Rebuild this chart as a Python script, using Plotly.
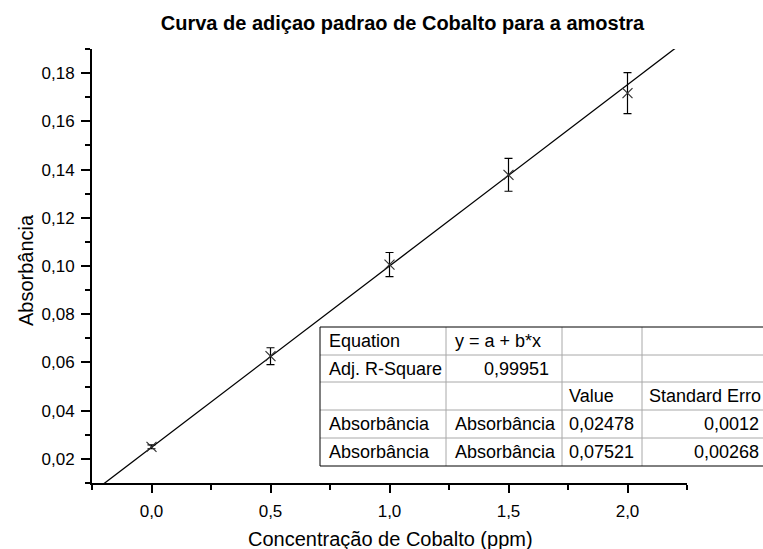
import plotly.graph_objects as go

# ---- data ----
conc = [0.0, 0.5, 1.0, 1.5, 2.0]
absorb = [0.0250, 0.0626, 0.1006, 0.1378, 0.1717]
absorb_err = [0.0008, 0.0035, 0.0050, 0.0068, 0.0085]
fit_a = 0.02478
fit_b = 0.07521
fit_x = [-0.25, 2.25]

title_text = "Curva de adiçao padrao de Cobalto para a amostra"
x_title = "Concentração de Cobalto (ppm)"
y_title = "Absorbância"
x_ticks = [0.0, 0.5, 1.0, 1.5, 2.0]
x_tick_labels = ["0,0", "0,5", "1,0", "1,5", "2,0"]
y_ticks = [0.02, 0.04, 0.06, 0.08, 0.10, 0.12, 0.14, 0.16, 0.18]
y_tick_labels = ["0,02", "0,04", "0,06", "0,08", "0,10", "0,12", "0,14", "0,16", "0,18"]

table_col1 = ["Equation", "Adj. R-Square", "", "Absorbância", "Absorbância"]
table_col2 = ["y = a + b*x", "0,99951", "", "Absorbância", "Absorbância"]
table_col3 = ["", "", "Value", "0,02478", "0,07521"]
table_col4 = ["", "", "Standard Erro", "0,0012", "0,00268"]

# ---- layout geometry (pixels) ----
W, H = 763, 549
L, R, T, B = 92, 76, 49, 66
PW, PH = W - L - R, H - T - B

def px(xp):
    return (xp - L) / PW

def py(yp):
    return (H - B - yp) / PH

FONT = "Liberation Sans, Arial, sans-serif"

fig = go.Figure()

fit_y = [fit_a + fit_b * v for v in fit_x]
fig.add_trace(go.Scatter(x=fit_x, y=fit_y, mode="lines",
                         line=dict(color="black", width=1.3),
                         hoverinfo="skip", showlegend=False))
fig.add_trace(go.Scatter(
    x=conc, y=absorb, mode="markers",
    marker=dict(symbol="x-thin-open", size=10, color="#333333",
                line=dict(width=1.2, color="#333333")),
    error_y=dict(type="data", array=absorb_err, visible=True,
                 color="black", thickness=1.2, width=4),
    showlegend=False))

# ---- table ----
col_edges = [320, 446, 562, 642, 800]
row_edges = [327, 355, 382, 410, 438, 466]
shapes = []
inner = "#a8a8a8"
shapes.append(dict(type="rect", xref="paper", yref="paper", layer="below",
                   x0=px(col_edges[0]), x1=px(col_edges[-1]),
                   y0=py(row_edges[-1]), y1=py(row_edges[0]),
                   line=dict(width=0), fillcolor="white"))
for ce in col_edges[1:-1]:
    shapes.append(dict(type="line", xref="paper", yref="paper",
                       x0=px(ce), x1=px(ce), y0=py(row_edges[0]), y1=py(row_edges[-1]),
                       line=dict(color=inner, width=1)))
for re_ in row_edges[1:-1]:
    shapes.append(dict(type="line", xref="paper", yref="paper",
                       x0=px(col_edges[0]), x1=px(col_edges[-1]), y0=py(re_), y1=py(re_),
                       line=dict(color=inner, width=1)))
shapes.append(dict(type="rect", xref="paper", yref="paper",
                   x0=px(col_edges[0]), x1=px(col_edges[-1]),
                   y0=py(row_edges[-1]), y1=py(row_edges[0]),
                   line=dict(color="black", width=1), fillcolor="rgba(0,0,0,0)"))

annotations = []
cols = [table_col1, table_col2, table_col3, table_col4]
for ci, col in enumerate(cols):
    for ri, txt in enumerate(col):
        if not txt:
            continue
        yc = (row_edges[ri] + row_edges[ri + 1]) / 2
        is_num = txt[0].isdigit()
        if is_num and ci in (1, 3):
            xr = col_edges[ci + 1] - 11 if ci == 1 else 761
            annotations.append(dict(x=px(xr), y=py(yc), xref="paper", yref="paper",
                                    text=txt, showarrow=False, xanchor="right", yanchor="middle",
                                    font=dict(family=FONT, size=18, color="black")))
        else:
            pad = 7 if ci < 2 else 5
            annotations.append(dict(x=px(col_edges[ci] + pad), y=py(yc), xref="paper", yref="paper",
                                    text=txt, showarrow=False, xanchor="left", yanchor="middle",
                                    font=dict(family=FONT, size=18, color="black")))

# axis titles
annotations.append(dict(x=px(390), y=py(539), xref="paper", yref="paper", text=x_title,
                        showarrow=False, xanchor="center", yanchor="middle",
                        font=dict(family=FONT, size=20, color="black")))
annotations.append(dict(x=px(26), y=py(270), xref="paper", yref="paper", text=y_title,
                        textangle=-90, showarrow=False, xanchor="center", yanchor="middle",
                        font=dict(family=FONT, size=20, color="black")))

fig.update_layout(
    width=W, height=H,
    margin=dict(l=L, r=R, t=T, b=B),
    paper_bgcolor="white", plot_bgcolor="white",
    font=dict(family=FONT, size=17, color="black"),
    title=dict(text="<b>" + title_text + "</b>", x=px(402.5), xanchor="center", xref="paper",
               y=1 - 22.5 / H, yanchor="middle", font=dict(family=FONT, size=20, color="black")),
    shapes=shapes, annotations=annotations,
    xaxis=dict(range=[-0.25, 2.25], tickvals=x_ticks, ticktext=x_tick_labels,
               showgrid=False, zeroline=False, showline=True, linecolor="black", linewidth=1.8,
               ticks="outside", ticklen=8, tickwidth=1.5, tickcolor="black",
               ticklabelstandoff=4,
               minor=dict(dtick=0.25, tick0=0, ticks="outside", ticklen=5, tickwidth=1.5, tickcolor="black"),
               tickfont=dict(size=17)),
    yaxis=dict(range=[0.01, 0.19], tickvals=y_ticks, ticktext=y_tick_labels,
               showgrid=False, zeroline=False, showline=True, linecolor="black", linewidth=1.8,
               ticks="outside", ticklen=9, tickwidth=1.5, tickcolor="black",
               ticklabelstandoff=3,
               minor=dict(dtick=0.01, tick0=0, ticks="outside", ticklen=5, tickwidth=1.5, tickcolor="black"),
               tickfont=dict(size=17)),
)

fig.write_html("out.html",
               config={"displayModeBar": False},
               post_script="document.body.style.margin='0px';document.body.style.overflow='hidden';")
